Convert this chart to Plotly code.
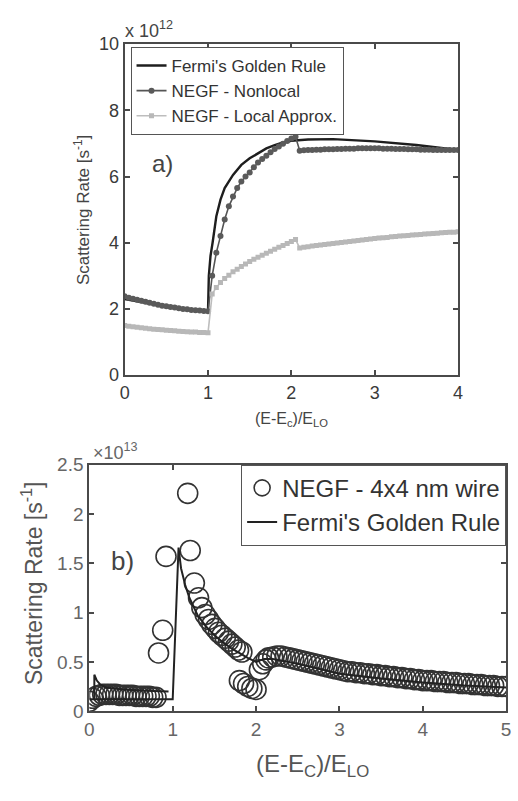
import numpy as np
import plotly.graph_objects as go

# ---------------- Panel a) data (units of 1e12 s^-1) ----------------
x_a = [round(v, 2) for v in np.arange(0, 4.0001, 0.05)]

nonlocal_a = [2.38, 2.34, 2.31, 2.28, 2.25, 2.22, 2.19, 2.16, 2.13, 2.10,
              2.08, 2.06, 2.04, 2.02, 2.00, 1.99, 1.97, 1.96, 1.95, 1.94,
              1.93, 3.00, 3.70, 4.20, 4.70, 5.10, 5.40, 5.65, 5.85, 6.00,
              6.12, 6.28, 6.42, 6.53, 6.63, 6.73, 6.83, 6.91, 6.99, 7.07,
              7.15, 7.20, 6.78, 6.79, 6.80, 6.80, 6.81, 6.81, 6.82, 6.82,
              6.82, 6.83, 6.83, 6.84, 6.84, 6.84, 6.85, 6.85, 6.85, 6.85,
              6.85, 6.85, 6.84, 6.84, 6.84, 6.83, 6.83, 6.83, 6.82, 6.82,
              6.82, 6.81, 6.81, 6.81, 6.80, 6.80, 6.80, 6.80, 6.80, 6.80,
              6.80]

local_a = [1.50, 1.48, 1.46, 1.45, 1.43, 1.42, 1.40, 1.39, 1.38, 1.37,
           1.36, 1.35, 1.34, 1.33, 1.32, 1.31, 1.30, 1.30, 1.29, 1.29,
           1.28, 2.45, 2.65, 2.80, 2.92, 3.02, 3.12, 3.20, 3.28, 3.36,
           3.43, 3.50, 3.56, 3.62, 3.68, 3.74, 3.80, 3.86, 3.92, 3.98,
           4.04, 4.10, 3.84, 3.86, 3.88, 3.90, 3.92, 3.93, 3.95, 3.96,
           3.98, 3.99, 4.01, 4.02, 4.04, 4.05, 4.07, 4.08, 4.10, 4.11,
           4.13, 4.14, 4.15, 4.16, 4.18, 4.19, 4.20, 4.21, 4.22, 4.23,
           4.24, 4.25, 4.26, 4.27, 4.28, 4.29, 4.30, 4.31, 4.32, 4.32,
           4.33]

fgr_a_x = [0, 0.25, 0.5, 0.75, 1.0, 1.01, 1.03, 1.055, 1.1, 1.15, 1.2, 1.3,
           1.4, 1.5, 1.6, 1.7, 1.8, 1.9, 2.0, 2.2, 2.5, 3.0, 3.5, 4.0]
fgr_a_y = [2.30, 2.18, 2.07, 1.99, 1.93, 3.0, 3.6, 4.0, 4.8, 5.3, 5.65, 6.05,
           6.35, 6.55, 6.70, 6.85, 6.95, 7.03, 7.08, 7.12, 7.13, 7.06, 6.95, 6.80]

# ---------------- Panel b) data (units of 1e13 s^-1) ----------------
negf_b_x = ([round(v, 2) for v in np.arange(0, 0.8001, 0.04)] +
            [0.83, 0.88, 0.92, 1.18, 1.21, 1.26, 1.31, 1.35, 1.39, 1.43, 1.47,
             1.51, 1.55, 1.59, 1.63, 1.67, 1.71, 1.75, 1.79, 1.83,
             1.80, 1.85, 1.90, 1.95, 2.00, 2.04, 2.08, 2.12] +
            [round(v, 2) for v in np.arange(2.15, 5.0001, 0.05)])
negf_b_y = ([0.10, 0.13, 0.15, 0.16, 0.17, 0.17, 0.17, 0.17, 0.17, 0.16, 0.16,
             0.16, 0.16, 0.16, 0.15, 0.15, 0.15, 0.15, 0.15, 0.14, 0.14] +
            [0.59, 0.82, 1.57, 2.21, 1.63, 1.30, 1.15, 1.05, 0.98, 0.93, 0.88,
             0.84, 0.80, 0.77, 0.74, 0.71, 0.68, 0.65, 0.62, 0.60,
             0.31, 0.28, 0.25, 0.23, 0.22, 0.42, 0.48, 0.52] +
            [0.54, 0.55, 0.56, 0.56, 0.55, 0.54, 0.53, 0.52, 0.51, 0.50,
             0.49, 0.48, 0.47, 0.46, 0.45, 0.44, 0.43, 0.42, 0.41, 0.40,
             0.40, 0.39, 0.39, 0.38, 0.38, 0.37, 0.37, 0.36, 0.36, 0.35,
             0.35, 0.34, 0.34, 0.33, 0.33, 0.32, 0.32, 0.31, 0.31, 0.31,
             0.30, 0.30, 0.30, 0.29, 0.29, 0.29, 0.28, 0.28, 0.28, 0.27,
             0.27, 0.27, 0.26, 0.26, 0.26, 0.25, 0.25, 0.25])

fgr_b_x = [0.06, 0.06, 0.09, 0.13, 0.2, 0.4, 0.6, 0.8, 0.95, None,
           0.0, 1.0, 1.07, 1.1, 1.15, 1.2, 1.3, 1.4, 1.5, 1.6, 1.7, 1.8, 1.9,
           2.0, 2.1, 2.2, 2.5, 3.0, 3.5, 4.0, 4.5, 5.0]
fgr_b_y = [0.12, 0.37, 0.31, 0.27, 0.24, 0.22, 0.21, 0.20, 0.20, None,
           0.12, 0.12, 1.66, 1.45, 1.28, 1.15, 0.97, 0.86, 0.77, 0.70, 0.64,
           0.59, 0.54, 0.50, 0.53, 0.53, 0.48, 0.38, 0.33, 0.29, 0.26, 0.24]

xticks_a = [0, 1, 2, 3, 4]
yticks_a = [0, 2, 4, 6, 8, 10]
xticks_b = [0, 1, 2, 3, 4, 5]
yticks_b = [0, 0.5, 1, 1.5, 2, 2.5]
ytick_b_text = ["0", "0.5", "1", "1.5", "2", "2.5"]

FONT = "Liberation Sans, Arial, Helvetica, sans-serif"
W, H = 518, 801

fig = go.Figure()

# panel a
fig.add_trace(go.Scatter(x=fgr_a_x, y=fgr_a_y, mode="lines",
                         name="Fermi's Golden Rule",
                         line=dict(color="#1e1e1e", width=2.4),
                         xaxis="x", yaxis="y", legend="legend"))
fig.add_trace(go.Scatter(x=x_a, y=nonlocal_a, mode="lines+markers",
                         name="NEGF - Nonlocal",
                         line=dict(color="#555555", width=1.6),
                         marker=dict(symbol="circle", size=6, color="#5a5a5a"),
                         xaxis="x", yaxis="y", legend="legend"))
fig.add_trace(go.Scatter(x=x_a, y=local_a, mode="lines+markers",
                         name="NEGF - Local Approx.",
                         line=dict(color="#bdbdbd", width=1.6),
                         marker=dict(symbol="square", size=5, color="#b8b8b8"),
                         xaxis="x", yaxis="y", legend="legend"))

# panel b
fig.add_trace(go.Scatter(x=negf_b_x, y=negf_b_y, mode="markers",
                         name="NEGF - 4x4 nm wire",
                         marker=dict(symbol="circle-open", size=20,
                                     color="#333333", line=dict(width=1.6)),
                         xaxis="x2", yaxis="y2", legend="legend2"))
fig.add_trace(go.Scatter(x=fgr_b_x, y=fgr_b_y, mode="lines",
                         name="Fermi's Golden Rule",
                         line=dict(color="#222222", width=2),
                         connectgaps=False,
                         xaxis="x2", yaxis="y2", legend="legend2"))

def px_x(p):
    return p / W

def px_y(p):
    return 1 - p / H

axis_common = dict(showline=True, mirror="ticks", linecolor="#4a4a4a",
                   linewidth=2, ticks="inside", ticklen=5, tickwidth=1.5,
                   tickcolor="#4a4a4a", showgrid=False, zeroline=False)

fig.update_layout(
    width=W, height=H,
    margin=dict(l=0, r=0, t=0, b=0),
    paper_bgcolor="white", plot_bgcolor="white",
    font=dict(family=FONT, color="#333333"),
    showlegend=True,
    xaxis=dict(domain=[px_x(122), px_x(462)], range=[0, 4], anchor="y",
               tickvals=xticks_a, tickfont=dict(size=18, color="#3a3a3a"),
               **axis_common),
    yaxis=dict(domain=[px_y(375), px_y(35)], range=[0, 10], anchor="x",
               tickvals=yticks_a, tickfont=dict(size=18, color="#3a3a3a"),
               **axis_common),
    xaxis2=dict(domain=[px_x(86), px_x(511)], range=[0, 5], anchor="y2",
                tickvals=xticks_b, tickfont=dict(size=19, color="#666666"),
                **axis_common),
    yaxis2=dict(domain=[px_y(720), px_y(467)], range=[0, 2.5], anchor="x2",
                tickvals=yticks_b, ticktext=ytick_b_text,
                tickfont=dict(size=19, color="#666666"),
                **axis_common),
    legend=dict(x=px_x(128), y=px_y(38), xanchor="left", yanchor="top",
                bgcolor="white", bordercolor="#555555", borderwidth=1,
                font=dict(size=17, color="#333333", family=FONT),
                tracegroupgap=0, itemwidth=30),
    legend2=dict(x=px_x(511), y=px_y(467), xanchor="right", yanchor="top",
                 bgcolor="white", bordercolor="#555555", borderwidth=1,
                 font=dict(size=24, color="#333333", family=FONT),
                 tracegroupgap=0, itemwidth=30),
)

annotations = [
    dict(text="x 10<sup>12</sup>", x=px_x(120), y=px_y(20), xref="paper",
         yref="paper", xanchor="left", yanchor="middle", showarrow=False,
         font=dict(size=18, color="#444444")),
    dict(text="Scattering Rate [s<sup>-1</sup>]", x=px_x(78), y=px_y(205),
         xref="paper", yref="paper", textangle=-90, showarrow=False,
         xanchor="center", yanchor="middle",
         font=dict(size=17, color="#444444")),
    dict(text="(E-E<sub>c</sub>)/E<sub>LO</sub>", x=px_x(292), y=px_y(421),
         xref="paper", yref="paper", showarrow=False, xanchor="center",
         yanchor="middle", font=dict(size=16, color="#444444")),
    dict(text="a)", x=0.45, y=6.4, xref="x", yref="y", showarrow=False,
         font=dict(size=24, color="#444444")),
    dict(text="×10<sup>13</sup>", x=px_x(88), y=px_y(453), xref="paper",
         yref="paper", xanchor="left", yanchor="middle", showarrow=False,
         font=dict(size=18, color="#666666")),
    dict(text="Scattering Rate [s<sup>-1</sup>]", x=px_x(27), y=px_y(588),
         xref="paper", yref="paper", textangle=-90, showarrow=False,
         xanchor="center", yanchor="middle",
         font=dict(size=23, color="#555555")),
    dict(text="(E-E<sub>C</sub>)/E<sub>LO</sub>", x=px_x(314), y=px_y(776),
         xref="paper", yref="paper", showarrow=False, xanchor="center",
         yanchor="middle", font=dict(size=24, color="#555555")),
    dict(text="b)", x=0.4, y=1.52, xref="x2", yref="y2", showarrow=False,
         font=dict(size=26, color="#444444")),
]
fig.update_layout(annotations=annotations)

fig.write_html("out.html",
               config={"displayModeBar": False},
               post_script="document.body.style.margin='0';"
                           "document.body.style.overflow='hidden';")
